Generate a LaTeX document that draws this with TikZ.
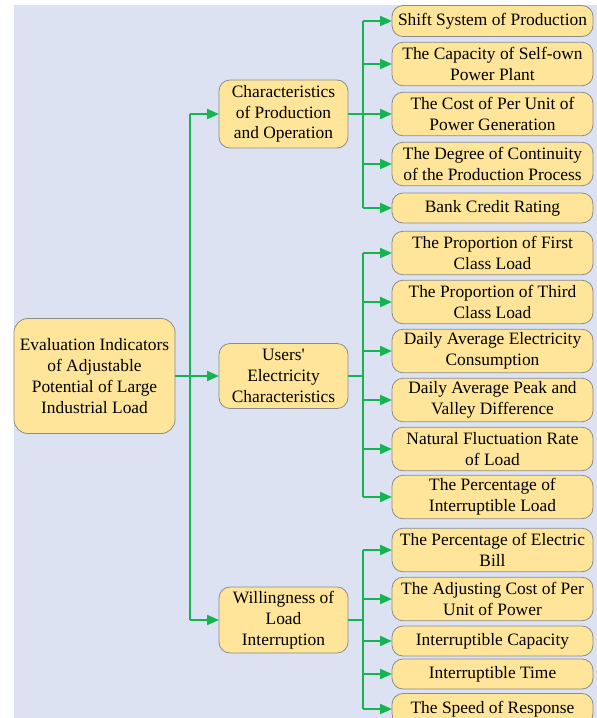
\documentclass[tikz,border=0pt]{standalone}
\usepackage{fontspec}
\setmainfont{Liberation Serif}
\usetikzlibrary{arrows.meta}
\definecolor{bgblue}{RGB}{220,226,242}
\definecolor{boxfill}{RGB}{255,229,153}
\definecolor{boxline}{RGB}{140,140,140}
\definecolor{linkgreen}{RGB}{20,180,80}
\begin{document}
\begin{tikzpicture}[x=1pt,y=-1pt,
  box/.style={draw=boxline, fill=boxfill, line width=0.8pt, rounded corners=11pt,
    align=center, inner sep=0pt, outer sep=0pt, text=black,
    font=\fontsize{17.4}{20.8}\selectfont},
  rootbox/.style={box, rounded corners=14pt, minimum width=161pt, minimum height=115pt},
  midbox/.style={box, minimum width=129pt, minimum height=66pt},
  leaf/.style={box, minimum width=201pt, minimum height=43.5pt},
  leafone/.style={box, minimum width=201pt, minimum height=30pt},
  wire/.style={draw=linkgreen, line width=2pt},
  link/.style={wire, -{Triangle[length=12pt,width=10pt]}}]

\useasboundingbox (0,0) rectangle (597,718);
\clip (0,0) rectangle (597,718);
\fill[bgblue] (14,5) rectangle (597,718);

% root and second level
\node[rootbox] (root) at (94.5,376) {Evaluation Indicators\\of Adjustable\\Potential of Large\\Industrial Load};
\node[midbox, minimum height=68pt] (prod) at (283.5,114) {Characteristics\\of Production\\and Operation};
\node[midbox, minimum height=65pt] (users) at (283.5,376) {Users\textquotesingle\\Electricity\\Characteristics};
\node[midbox] (will) at (283.5,620) {Willingness of\\Load\\Interruption};

% production and operation indicators
\node[leafone, minimum height=31pt] (p1) at (492.5,21) {Shift System of Production};
\node[leaf] (p2) at (492.5,64) {The Capacity of Self-own\\Power Plant};
\node[leaf] (p3) at (492.5,114) {The Cost of Per Unit of\\Power Generation};
\node[leaf] (p4) at (492.5,164) {The Degree of Continuity\\of the Production Process};
\node[leafone] (p5) at (492.5,208) {Bank Credit Rating};

% electricity characteristics indicators
\node[leaf] (u1) at (492.5,253) {The Proportion of First\\Class Load};
\node[leaf] (u2) at (492.5,302) {The Proportion of Third\\Class Load};
\node[leaf] (u3) at (492.5,351) {Daily Average Electricity\\Consumption};
\node[leaf] (u4) at (492.5,400) {Daily Average Peak and\\Valley Difference};
\node[leaf] (u5) at (492.5,449) {Natural Fluctuation Rate\\of Load};
\node[leaf] (u6) at (492.5,497) {The Percentage of\\Interruptible Load};

% interruption willingness indicators
\node[leaf] (w1) at (492.5,550) {The Percentage of Electric\\Bill};
\node[leaf] (w2) at (492.5,599) {The Adjusting Cost of Per\\Unit of Power};
\node[leafone] (w3) at (492.5,641) {Interruptible Capacity};
\node[leafone] (w4) at (492.5,674) {Interruptible Time};
\node[leafone, minimum height=31pt] (w5) at (492.5,709) {The Speed of Response};

% trunk lines: one vertical bar per parent, then one arrow per child
\coordinate (rj) at ([xshift=15pt]root.east);
\draw[wire] (root.east) -- (rj);
\draw[wire] (rj |- prod.west) -- (rj |- will.west);
\foreach \m in {prod,users,will}
  \draw[link] (rj |- \m.west) -- (\m.west);

\coordinate (pj) at ([xshift=15pt]prod.east);
\draw[wire] (prod.east) -- (pj);
\draw[wire] (pj |- p1.west) -- (pj |- p5.west);
\foreach \c in {p1,p2,p3,p4,p5}
  \draw[link] (pj |- \c.west) -- (\c.west);

\coordinate (uj) at ([xshift=15pt]users.east);
\draw[wire] (users.east) -- (uj);
\draw[wire] (uj |- u1.west) -- (uj |- u6.west);
\foreach \c in {u1,u2,u3,u4,u5,u6}
  \draw[link] (uj |- \c.west) -- (\c.west);

\coordinate (wj) at ([xshift=15pt]will.east);
\draw[wire] (will.east) -- (wj);
\draw[wire] (wj |- w1.west) -- (wj |- w5.west);
\foreach \c in {w1,w2,w3,w4,w5}
  \draw[link] (wj |- \c.west) -- (\c.west);
\end{tikzpicture}
\end{document}
